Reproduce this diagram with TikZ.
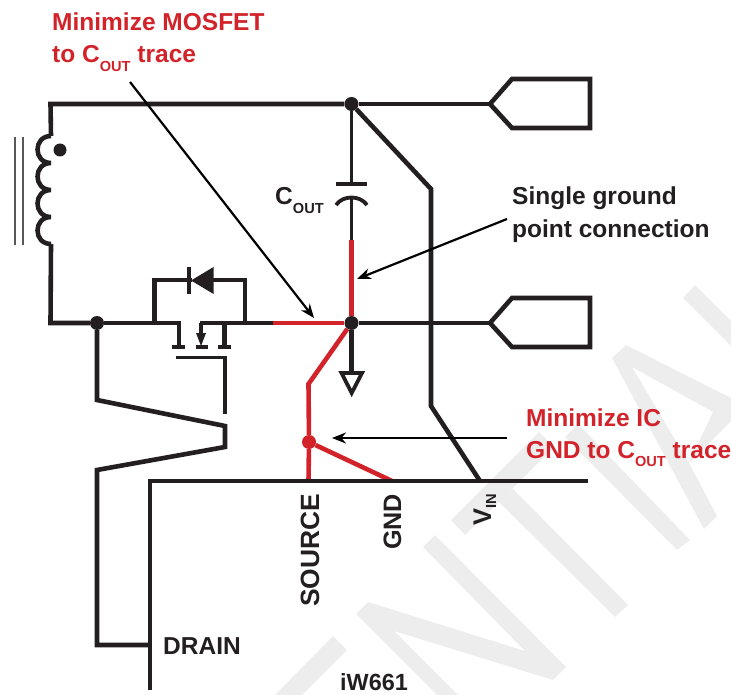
\documentclass[tikz,border=0pt]{standalone}
\usepackage{fontspec}
\setmainfont{Liberation Sans}
\usetikzlibrary{arrows.meta}
\definecolor{ink}{HTML}{231F20}
\definecolor{redtrace}{HTML}{D2232A}
\definecolor{mark}{HTML}{EDEDED}
\newcommand{\lbl}[1]{\fontsize{#1}{#1}\selectfont\bfseries}
\newcommand{\subout}[1]{\raisebox{-8.5pt}{\fontsize{14.6}{14.6}\selectfont #1}}
\tikzset{
  wire/.style={draw=ink,line width=4.6pt,miter limit=10},
  thinwire/.style={draw=ink,line width=3.8pt},
  redwire/.style={draw=redtrace,line width=4.6pt},
  dot/.style={circle,fill=ink,inner sep=0pt,minimum size=14pt},
  reddot/.style={circle,fill=redtrace,inner sep=0pt,minimum size=14pt},
  callout/.style={draw=black,line width=2.2pt,-{Stealth[length=14pt,width=11pt]},shorten >=0pt},
  labelblack/.style={text=ink,inner sep=0pt,anchor=base west,font=\lbl{24.5}},
  labelred/.style={text=redtrace,inner sep=0pt,anchor=base west,font=\lbl{24.5}},
  watermark/.style={fill=mark,draw=none}
}
\begin{document}
\begin{tikzpicture}[x=1pt,y=-1pt]
\useasboundingbox (0,0) rectangle (731,695);
% watermark strokes
\fill[watermark] (275,695) -- (333,636) -- (347,650) -- (302,695) -- cycle;
\fill[watermark] (356,614) -- (368,602) -- (525,651) -- (423,547) -- (435,535) -- (566,667) -- (553,680) -- (394,631) -- (458,695) -- (437,695) -- cycle;
\fill[watermark] (451,520) -- (539,432) -- (554,447) -- (499,502) -- (513,489) -- (628,605) -- (615,617) -- (499,502) -- (465,535) -- cycle;
\fill[watermark] (565,437) -- (578,424) -- (690,540) -- (677,550) -- cycle;
\fill[watermark,even odd rule] (612,358) -- (626,345) -- (731,398) -- (731,421) -- (689,463) -- (717,516) -- (704,529) -- cycle (632,367) -- (713,412) -- (689,463) -- cycle;
\fill[watermark] (683,298) -- (695,285) -- (731,321) -- (731,346) -- cycle;

% named points
\coordinate (tl) at (50.5,104);
\coordinate (coilT) at (51,136);
\coordinate (c1) at (51,163);
\coordinate (c2) at (51,190);
\coordinate (c3) at (51,217);
\coordinate (coilB) at (51,244);
\coordinate (bl) at (50.5,323);
\coordinate (port1) at (490,104);
\coordinate (port2) at (490,323);
\coordinate (vinA) at (431,189);
\coordinate (vinB) at (431,406);
\coordinate (vinC) at (480,481);
\coordinate (capTop) at (351.5,184);
\coordinate (capBot) at (351.5,197);
\coordinate (redTop) at (351.5,240);
\coordinate (redL) at (273,323);
\coordinate (gndTop) at (351.5,373);
\coordinate (srcBend) at (308.5,384);
\coordinate (srcPin) at (308.5,481);
\coordinate (gndPin) at (392,481);
\coordinate (icR) at (588,481);
\coordinate (icC) at (150,481);
\coordinate (icB) at (150,690);
\coordinate (drainPin) at (150,645);

% nodes
\node[dot] (jTop) at (351.5,104) {};
\node[dot] (jMid) at (351.5,323) {};
\node[dot] (jLeft) at (97,323) {};
\node[dot,minimum size=13pt] (phase) at (60,150) {};
\node[reddot] (jRed) at (309,442) {};

% core
\draw[draw=ink!75,line width=2pt] (14.5,137) -- (14.5,245);
\draw[draw=ink!75,line width=2pt] (23,137) -- (23,245);

% top rail, winding, bottom rail
\draw[wire] (jTop) -- (tl) -- (coilT);
\draw[wire] (coilT) .. controls (33,136) and (33,163) .. (c1)
  .. controls (33,163) and (33,190) .. (c2)
  .. controls (33,190) and (33,217) .. (c3)
  .. controls (33,217) and (33,244) .. (coilB);
\draw[wire] (coilB) -- (bl) -- (jLeft);
\draw[wire] (jTop) -- (port1);
\draw[wire] (port1) -- (512,79) -- (590,79) -- (590,128) -- (512,128) -- cycle;
\draw[wire] (redL) -- (200,323);
\draw[wire] (jMid) -- (port2);
\draw[wire] (port2) -- (512,298) -- (590,298) -- (590,347) -- (512,347) -- cycle;

% MOSFET
\draw[wire] (jLeft) -- (179,323) -- (179,347);
\draw[wire] (172,347) -- (184.5,347);
\draw[wire] (196,347) -- (208,347);
\draw[wire] (218,347) -- (231,347);
\draw[wire] (224.5,323) -- (224.5,347);
\draw[thinwire] (201,323) -- (201,334);
\fill[ink] (196,333) -- (206,333) -- (201,346) -- cycle;
\draw[thinwire] (175.5,357.5) -- (225,357.5) -- (225,414);

% body diode
\draw[wire] (154.5,323) -- (154.5,280) -- (192,280);
\draw[wire] (210,280) -- (245,280) -- (245,323);
\fill[ink] (191,280.5) -- (213.5,267) -- (213.5,294) -- cycle;
\draw[thinwire] (189,267) -- (189,294);

% capacitor
\draw[thinwire] (jTop) -- (capTop);
\draw[thinwire] (336,184) -- (367,184);
\draw[thinwire] (336,205) .. controls (343,195) and (360,195) .. (367,205);
\draw[thinwire] (capBot) -- (redTop);

% VIN trace
\draw[wire] (jTop) -- (vinA) -- (vinB) -- (vinC);

% ground
\draw[wire] (jMid) -- (gndTop);
\draw[thinwire,miter limit=10] (341.5,373) -- (362,373) -- (351.7,393) -- cycle;

% drain wave
\draw[wire] (jLeft) -- (97,400) -- (225,426) -- (225,447) -- (97,470) -- (97,645) -- (drainPin);

% red traces
\draw[redwire] (redTop) -- (jMid);
\draw[redwire] (redL) -- (jMid);
\draw[redwire] (jMid) -- (srcBend) -- (jRed);
\draw[redwire] (jRed) -- (srcPin);
\draw[redwire] (jRed) -- (gndPin);

% IC outline
\draw[wire] (icR) -- (icC) -- (icB);

% texts
\node[labelred] (t1) at (52,31) {Minimize MOSFET};
\node[labelred] (t2) at (52,63) {to C\subout{OUT} trace};
\node[labelblack] (t3) at (275,205) {C\subout{OUT}};
\node[labelblack] (t4) at (512,205) {Single ground};
\node[labelblack] (t5) at (512,237) {point connection};
\node[labelred] (t6) at (526,426) {Minimize IC};
\node[labelred] (t7) at (526,458) {GND to C\subout{OUT} trace};
\node[labelblack,rotate=90,font=\lbl{26.4}] (t8) at (319,607) {SOURCE};
\node[labelblack,rotate=90,font=\lbl{25.2}] (t9) at (401,550) {GND};
\node[labelblack,rotate=90,font=\lbl{25.5}] (t10) at (491,526) {V\raisebox{-5pt}{\fontsize{14.6}{14.6}\selectfont IN}};
\node[labelblack] (t11) at (163,654) {DRAIN};
\node[labelblack,font=\lbl{23.4}] (t12) at (340,690) {iW661};

% callouts
\coordinate (a1s) at (130,82);
\coordinate (a1e) at (314,318);
\coordinate (a2s) at (507,219);
\coordinate (a2e) at (357,279);
\coordinate (a3s) at (507,438);
\coordinate (a3e) at (332,438);
\draw[callout] (a1s) -- (a1e);
\draw[callout] (a2s) -- (a2e);
\draw[callout] (a3s) -- (a3e);
\end{tikzpicture}
\end{document}
